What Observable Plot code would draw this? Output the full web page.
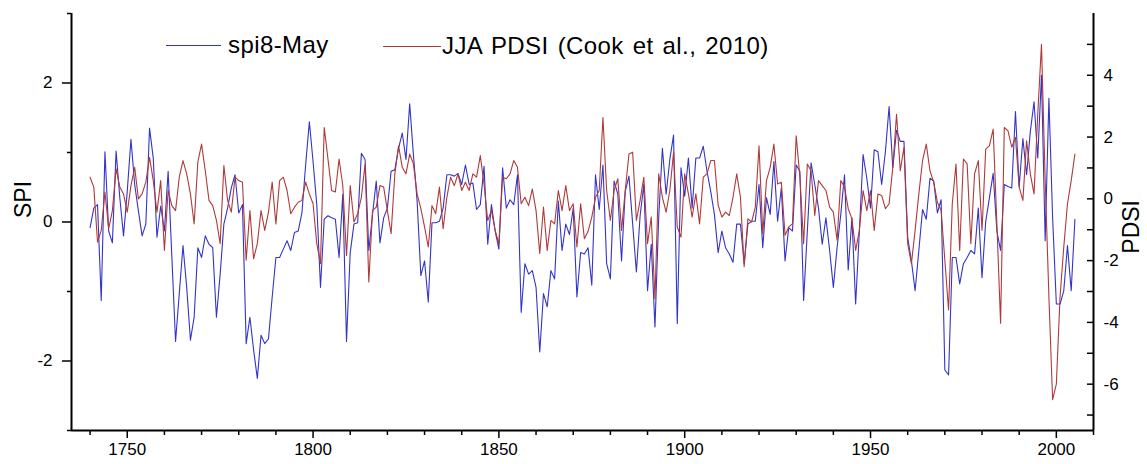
<!DOCTYPE html>
<html><head><meta charset="utf-8">
<script src="https://cdn.jsdelivr.net/npm/d3@7"></script>
<script src="https://cdn.jsdelivr.net/npm/@observablehq/plot@0.6"></script>
<style>
body{margin:0;background:#fff;}
#wrap{position:relative;width:1147px;height:464px;}
.legtxt{position:absolute;font-family:"Liberation Sans",Arial,sans-serif;font-size:24px;letter-spacing:0.4px;word-spacing:2px;color:#000;white-space:nowrap;line-height:24px;}
.legline{position:absolute;height:0;}
</style></head><body><div id="wrap"></div>
<script>
const startYear = 1740;
// SPI (spi8-May), one value per year from 1740
const spi = [
 -0.08, 0.2, 0.25, -1.13, 1.01, -0.13, -0.3, 1.02, 0.35, -0.2,
 0.44, 1.19, 0.54, 0.16, -0.2, -0.03, 1.35, 0.92, -0.22, 0.23,
 -0.13, 0.73, -0.5, -1.72, -1.03, -0.34, -0.94, -1.7, -1.37, -0.37,
 -0.51, -0.2, -0.32, -0.37, -1.37, -0.75, -0.03, 0.2, 0.49, 0.68,
 0.13, 0.25, -1.75, -1.37, -1.84, -2.25, -1.63, -1.75, -1.68, -1.08,
 -0.51, -0.51, -0.39, -0.27, -0.41, -0.15, -0.13, 0.13, 0.82, 1.44,
 0.87, 0.25, -0.94, 0.04, 0.09, 0.06, 0.04, -0.51, 0.4, -1.72,
 -0.44, -0.03, -0.01, 0.99, 0.9, -0.41, 0.11, 0.59, -0.3, 0.06,
 0.2, 0.73, 0.75, 1.06, 1.28, 0.9, 1.7, 0.97, 0.3, -0.77,
 -0.56, -1.15, -0.01, -0.01, 0.01, 0.2, 0.68, 0.68, 0.66, 0.7,
 0.54, 0.82, 0.54, 0.56, 0.18, 0.25, 0.8, -0.32, 0.25, -0.13,
 -0.39, 0.78, 0.2, 0.32, 0.25, 0.68, -1.3, -0.6, -0.75, -0.7,
 -0.94, -1.87, -1.03, -1.22, -0.7, -0.82, 0.3, -0.41, -0.03, -0.18,
 0.2, -1.08, -0.44, -0.46, -0.37, -0.91, 0.68, 0.18, 0.82, -0.6,
 -0.82, 0.59, 0.4, -0.56, 0.44, 0.66, -0.03, -0.72, 0.09, 0.54,
 -0.99, -0.32, -1.51, 0.06, 1.06, 0.4, 0.9, 1.25, -1.46, 0.78,
 0.37, 0.92, 0.2, 0.92, 0.92, 1.09, 0.73, 0.44, 0.11, -0.44,
 -0.13, -0.37, -0.46, -0.58, -0.03, -0.03, -0.6, -0.03, 0.01, 0.01,
 0.54, -0.37, 0.35, 0.11, 0.87, 0.01, 0.49, -0.56, -0.08, -0.13,
 0.82, 0.73, -1.13, -0.13, 0.85, 0.54, 0.2, -0.32, 0.06, -0.41,
 -0.94, -0.37, 0.11, 0.68, -0.69, 0.06, -1.18, -0.13, 0.97, 0.63,
 0.2, 1.04, 1.01, 0.54, 1.01, 1.66, 0.78, 1.32, 1.16, 1.16,
 -0.22, -0.56, -0.99, -0.41, 0.18, 0.04, 0.63, 0.59, 0.13, 0.32,
 -2.13, -2.2, -0.51, -0.51, -0.89, -0.6, -0.51, -0.41, -0.46, 0.2,
 -0.8, 0.01, 0.35, 0.7, -0.13, -0.41, 0.54, 0.51, 0.49, 1.59,
 0.51, 1.2, 0.68, 1.3, 1.73, 0.92, 2.11, -0.27, 1.78, 0.06,
 -1.18, -1.18, -0.99, -0.34, -0.99, 0.04
];
// JJA PDSI (Cook et al., 2010), one value per year from 1740
const pdsi = [
 0.7, 0.38, -1.4, -1.02, 0.22, -0.97, -0.38, 0.97, 0.38, 0.16,
 -0.43, 0.43, 1.02, 0.0, 0.16, 0.54, 1.34, 0.59, -0.43, 0.59,
 -1.67, 0.27, -0.22, -0.38, 0.7, 1.24, 0.81, 0.16, -0.81, 1.2,
 1.77, 0.91, -0.05, -0.22, -0.7, -1.45, 1.08, -0.05, -0.43, 0.7,
 0.59, 0.54, -1.99, -0.38, -1.94, -1.45, -0.38, -1.02, -0.43, 0.54,
 -0.81, 0.59, 0.7, 0.27, -0.48, -0.27, -0.11, -0.05, 0.54, 0.16,
 -0.16, -1.45, -2.1, 2.31, 1.3, 0.27, 0.22, 1.29, 0.43, -1.83,
 0.43, -0.75, -0.48, 0.05, 1.13, -2.69, -0.38, -0.27, 0.43, 0.38,
 -0.38, -1.13, 0.81, 1.72, 1.02, 0.81, 1.45, 1.13, 0.16, -0.32,
 -0.91, -1.56, -0.22, -0.48, 0.38, -0.97, 0.05, 0.7, 0.43, 0.81,
 0.27, 0.54, 0.27, 0.81, 0.7, 1.4, 0.48, -0.7, -0.38, -1.02,
 -1.45, 0.7, 0.65, 0.81, 1.24, 1.02, -0.16, 0.05, -0.22, 0.32,
 -0.38, -1.77, -0.27, -1.67, -0.7, -0.81, 0.27, -0.38, 0.43, -0.38,
 -0.16, -1.56, -0.16, -1.29, -1.05, -0.59, 0.05, 0.27, 2.63, 0.27,
 -0.7, 0.27, 0.65, -1.02, 0.27, 1.45, 1.51, -0.7, -0.05, 0.7,
 -1.45, -0.59, -3.23, 0.81, 0.05, -0.43, 0.27, 1.51, -0.91, -1.24,
 0.81, 0.16, -0.59, 0.16, -0.81, 0.7, 0.81, 1.24, 1.24, -0.2,
 -0.59, -0.43, -0.54, 0.05, 0.81, 0.05, -2.2, -0.65, -0.75, -0.27,
 1.72, -1.13, 0.59, 1.02, 1.77, 0.48, 0.54, -1.18, -0.91, -0.81,
 2.04, 0.7, -1.45, 1.13, 0.91, -0.54, 0.59, 0.43, 0.27, -0.27,
 -0.43, -1.34, 0.59, 0.38, -0.32, -0.65, -1.67, -1.02, 0.27, -0.38,
 0.27, -1.02, 0.16, 0.11, -0.32, -0.16, 1.02, 2.74, 0.91, 1.67,
 -1.45, -2.1, -1.02, 0.16, 1.24, 1.77, 0.91, 0.54, -0.11, -0.38,
 -1.99, -3.6, -0.16, 1.13, -1.67, 1.29, 1.13, -1.45, 0.81, 1.24,
 -1.02, 1.61, 1.72, 2.26, -0.81, -4.03, 2.31, 2.2, 1.67, 1.99,
 0.38, -0.05, 1.88, 0.81, 0.16, 2.74, 5.0, 0.59, -3.17, -6.5,
 -6.0, -3.17, -1.56, -0.16, 0.59, 1.45
];
const seriesNames = ["spi8-May", "JJA PDSI (Cook et al., 2010)"];
const seriesColors = ["#3434c8", "#b03a3a"];
const spiTicks = [-2, 0, 2];
const spiMinorTicks = [-3, -1, 1, 3];
const pdsiTicks = [-6, -4, -2, 0, 2, 4];
const pdsiMinorTicks = [-7, -5, -3, -1, 1, 3, 5];
const yearTicks = [1750, 1800, 1850, 1900, 1950, 2000];
const yearMinorTicks = [1740, 1760, 1770, 1780, 1790, 1810, 1820, 1830, 1840, 1860, 1870, 1880, 1890, 1910, 1920, 1930, 1940, 1960, 1970, 1980, 1990, 2010];
const xDomain = [1735, 2010];
const spiDomain = [-3, 3];
const pdsiDomain = [-7.5, 6];

const toSpi = p => spiDomain[0] + (p - pdsiDomain[0]) * (spiDomain[1] - spiDomain[0]) / (pdsiDomain[1] - pdsiDomain[0]);
const fromSpi = s => pdsiDomain[0] + (s - spiDomain[0]) * (pdsiDomain[1] - pdsiDomain[0]) / (spiDomain[1] - spiDomain[0]);

const data = spi.map((v, i) => ({year: startYear + i, spi: v, pdsiScaled: toSpi(pdsi[i])}));

const W = 1147, H = 464, mL = 71, mR = 54, mT = 13, mB = 34;
const fmt = d => String(Math.round(d));

const chart = Plot.plot({
  width: W, height: H,
  marginLeft: mL, marginRight: mR, marginTop: mT, marginBottom: mB,
  style: {fontFamily: '"Liberation Sans", Arial, sans-serif', fontSize: "17px", color: "#000", background: "#fff", overflow: "visible"},
  x: {domain: xDomain, label: null},
  y: {domain: spiDomain, label: null},
  marks: [
    Plot.lineY(data, {x: "year", y: "spi", stroke: seriesColors[0], strokeWidth: 1.1}),
    Plot.lineY(data, {x: "year", y: "pdsiScaled", stroke: seriesColors[1], strokeWidth: 1.1}),
    Plot.axisY(spiTicks, {anchor: "left", tickSize: 9, tickPadding: 10, tickFormat: fmt, strokeWidth: 1.5, label: null}),
    Plot.axisY(spiMinorTicks, {anchor: "left", tickSize: 4, tickFormat: () => "", strokeWidth: 1.5, label: null}),
    Plot.axisY(pdsiTicks.map(toSpi), {anchor: "right", tickSize: 0, tickPadding: 10, tickFormat: d => fmt(fromSpi(d)), label: null}),
    Plot.tickY([...pdsiTicks, ...pdsiMinorTicks].map(toSpi), {insetLeft: W - mL - mR - 6, stroke: "#000", strokeWidth: 1.5}),
    Plot.axisX(yearTicks, {anchor: "bottom", tickSize: 8, tickPadding: 4, tickFormat: d => String(d), strokeWidth: 1.5, label: null}),
    Plot.axisX(yearMinorTicks, {anchor: "bottom", tickSize: 5, tickFormat: () => "", strokeWidth: 1.5, label: null}),
    Plot.ruleX([xDomain[0]], {stroke: "#000", strokeWidth: 2}),
    Plot.ruleX([xDomain[1]], {stroke: "#000", strokeWidth: 2}),
    Plot.ruleY([spiDomain[0]], {stroke: "#000", strokeWidth: 2}),
    Plot.text(["SPI"], {frameAnchor: "left", dx: -48, dy: -4, rotate: -90, fontSize: 23}),
    Plot.text(["PDSI"], {frameAnchor: "right", dx: 38, dy: -22, rotate: -90, fontSize: 23})
  ]
});

const wrap = document.getElementById("wrap");
wrap.appendChild(chart);

// legend (HTML overlay inside the plot area)
const legendLayout = [
  {lineX: 166, lineW: 55, lineY: 45, textX: 228},
  {lineX: 383, lineW: 58, lineY: 46, textX: 442}
];
seriesNames.forEach((name, i) => {
  const L = legendLayout[i];
  const line = document.createElement("div");
  line.className = "legline";
  line.style.left = L.lineX + "px";
  line.style.top = L.lineY + "px";
  line.style.width = L.lineW + "px";
  line.style.borderTop = "1.3px solid " + seriesColors[i];
  wrap.appendChild(line);
  const t = document.createElement("div");
  t.className = "legtxt";
  t.style.left = L.textX + "px";
  t.style.top = (L.lineY - 12) + "px";
  t.textContent = name;
  wrap.appendChild(t);
});
</script>
</body></html>
